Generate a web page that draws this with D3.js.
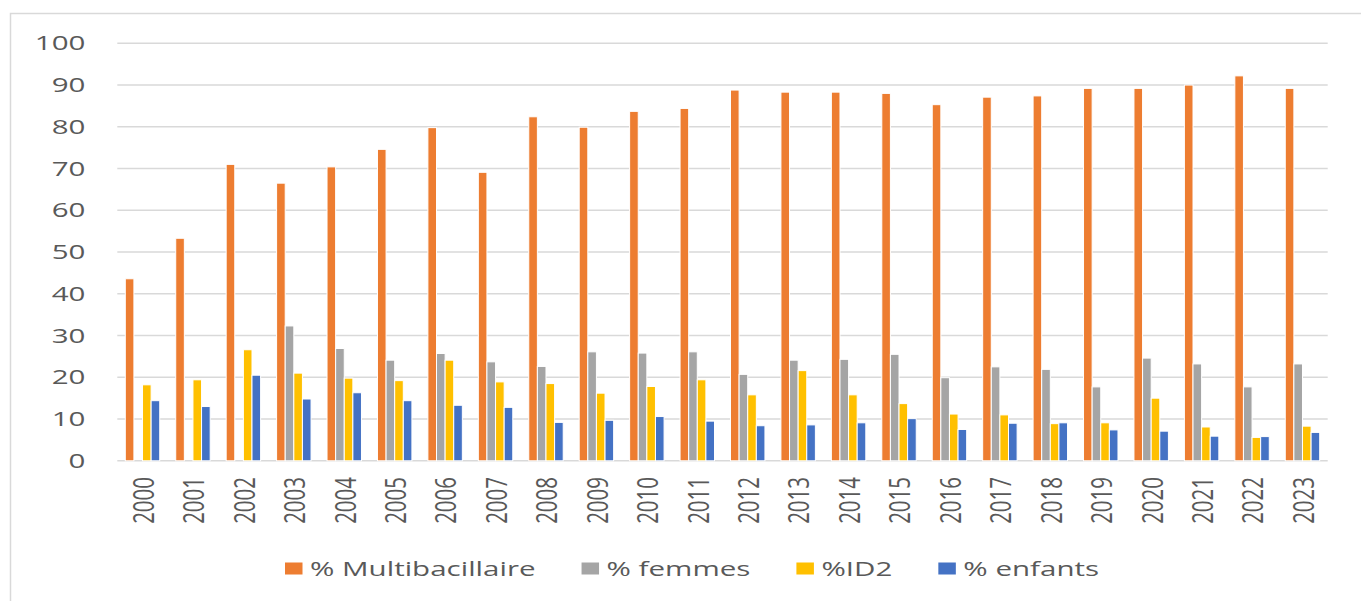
<!DOCTYPE html>
<html>
<head>
<meta charset="utf-8">
<script src="https://cdn.jsdelivr.net/npm/d3@7"></script>
<style>
  html, body { margin: 0; padding: 0; background: #fff; }
  svg { display: block; }
  text { font-family: "Open Sans", "Noto Sans", sans-serif; fill: #595959; }
</style>
</head>
<body>
<svg id="chart"></svg>
<script>
// Data
const years = ["2000","2001","2002","2003","2004","2005","2006","2007","2008","2009","2010","2011",
               "2012","2013","2014","2015","2016","2017","2018","2019","2020","2021","2022","2023"];
const multibacillaire = [43.6,53.3,71.0,66.5,70.4,74.6,79.8,69.1,82.4,79.9,83.7,84.4,
                         88.8,88.3,88.3,88.0,85.3,87.1,87.4,89.2,89.2,90.0,92.2,89.2];
const femmes = [0,0,0,32.3,26.9,24.1,25.7,23.7,22.6,26.1,25.8,26.1,
                20.7,24.1,24.3,25.5,19.9,22.5,21.9,17.7,24.6,23.2,17.7,23.2];
const id2 = [18.2,19.4,26.6,21.0,19.8,19.2,24.1,18.9,18.5,16.2,17.8,19.4,
             15.8,21.6,15.8,13.7,11.2,11.0,8.9,9.1,15.0,8.1,5.6,8.3];
const enfants = [14.4,13.0,20.5,14.8,16.3,14.4,13.3,12.8,9.2,9.7,10.6,9.5,
                 8.4,8.6,9.1,10.1,7.5,9.0,9.1,7.4,7.1,5.9,5.8,6.8];
const seriesNames = ["% Multibacillaire", "% femmes", "%ID2", "% enfants"];
const yTicks = [0,10,20,30,40,50,60,70,80,90,100];

const colors = ["#ED7D31", "#A5A5A5", "#FFC000", "#4472C4"];
const seriesValues = [multibacillaire, femmes, id2, enfants];

const width = 1361;
const height = 601;
const stretch = 1.44; // the picture is stretched horizontally
const fontSize = 20.5;

const svg = d3.select("#chart")
    .attr("width", width)
    .attr("height", height);

// outer frame (left and top edges visible)
svg.append("path")
    .attr("d", "M10.5,601 V13.5 H1361")
    .attr("fill", "none")
    .attr("stroke", "#d9d9d9")
    .attr("stroke-width", 1.5);

const plot = { left: 117.3, right: 1327.7, top: 43.3, bottom: 460.8 };

const y = d3.scaleLinear().domain([0, 100]).range([plot.bottom, plot.top]);
const x0 = d3.scaleBand().domain(years).range([plot.left, plot.right])
    .paddingInner(0.317).paddingOuter(0.1585);
const x1 = d3.scaleBand().domain(d3.range(seriesNames.length)).range([0, x0.bandwidth()]);

// gridlines
svg.append("g")
    .selectAll("line")
    .data(yTicks)
    .join("line")
    .attr("x1", plot.left)
    .attr("x2", plot.right)
    .attr("y1", d => y(d))
    .attr("y2", d => y(d))
    .attr("stroke", "#d9d9d9")
    .attr("stroke-width", 1.5);

// y labels
svg.append("g")
    .selectAll("text")
    .data(yTicks)
    .join("text")
    .attr("transform", d => `translate(85.5,${y(d)}) scale(${stretch},1)`)
    .attr("text-anchor", "end")
    .attr("dy", "0.35em")
    .style("font-size", fontSize + "px")
    .text(d => d);

// bars
const groups = svg.append("g")
    .selectAll("g")
    .data(years)
    .join("g")
    .attr("transform", d => `translate(${x0(d)},0)`);

groups.selectAll("rect")
    .data((d, i) => seriesValues.map((vals, s) => ({ s, v: vals[i] })))
    .join("rect")
    .filter(d => d.v > 0)
    .attr("x", d => x1(d.s))
    .attr("width", x1.bandwidth())
    .attr("y", d => y(d.v))
    .attr("height", d => y(0) - y(d.v))
    .attr("fill", d => colors[d.s])
    .attr("stroke", "#fff")
    .attr("stroke-width", 1);

// year labels (rotated)
svg.append("g")
    .selectAll("text")
    .data(years)
    .join("text")
    .attr("transform", d => `translate(${x0(d) + x0.bandwidth() / 2 + 1},477) scale(${stretch},1) rotate(-90)`)
    .attr("text-anchor", "end")
    .attr("dy", "0.35em")
    .style("font-size", fontSize + "px")
    .text(d => d);

// legend
const legend = svg.append("g");
let lx = 285;
seriesNames.forEach((name, i) => {
    legend.append("rect")
        .attr("x", lx)
        .attr("y", 562.5)
        .attr("width", 17.5)
        .attr("height", 12)
        .attr("fill", colors[i]);
    const t = legend.append("text")
        .attr("transform", `translate(${lx + 25},568.5) scale(${stretch},1)`)
        .attr("dy", "0.35em")
        .style("font-size", fontSize + "px")
        .text(name);
    const w = t.node().getComputedTextLength() * stretch;
    lx += 25 + w + 46;
});
</script>
</body>
</html>
